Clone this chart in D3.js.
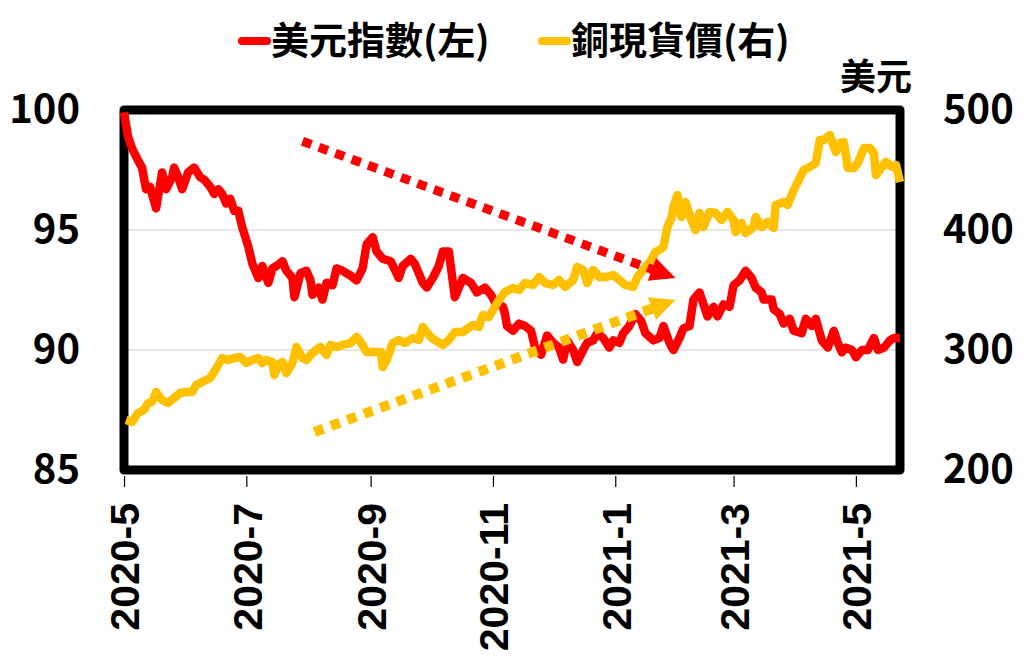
<html><head>
<meta charset="utf-8">
<title>美元指數 vs 銅現貨價</title>
<script src="https://d3js.org/d3.v7.min.js" charset="utf-8"></script>
<style>
  body { margin: 0; background: white; }
  .cjk { font-family: "Noto Sans CJK TC", "Noto Sans", sans-serif; font-weight: 700; }
  .xlab { font-family: "Liberation Sans", Arial, sans-serif; font-weight: 700; }
</style>
</head>
<body>
<script>
// DATA
var dxyDates = ["2020-05-01","2020-05-03","2020-05-05","2020-05-08","2020-05-10","2020-05-12","2020-05-14","2020-05-15","2020-05-17","2020-05-20",
  "2020-05-22","2020-05-25","2020-05-26","2020-05-28","2020-05-30","2020-06-02","2020-06-05","2020-06-08","2020-06-10","2020-06-13",
  "2020-06-15","2020-06-17","2020-06-19","2020-06-21","2020-06-23","2020-06-25","2020-06-27","2020-06-29","2020-07-02","2020-07-04",
  "2020-07-07","2020-07-09","2020-07-12","2020-07-14","2020-07-16","2020-07-19","2020-07-21","2020-07-24","2020-07-25","2020-07-28",
  "2020-07-31","2020-08-02","2020-08-03","2020-08-06","2020-08-08","2020-08-10","2020-08-13","2020-08-15","2020-08-18","2020-08-22",
  "2020-08-25","2020-08-28","2020-08-30","2020-09-02","2020-09-04","2020-09-07","2020-09-11","2020-09-15","2020-09-17","2020-09-21",
  "2020-09-23","2020-09-27","2020-09-29","2020-10-02","2020-10-05","2020-10-07","2020-10-10","2020-10-13","2020-10-17","2020-10-21",
  "2020-10-24","2020-10-28","2020-10-31","2020-11-02","2020-11-06","2020-11-07","2020-11-08","2020-11-11","2020-11-14","2020-11-17",
  "2020-11-20","2020-11-22","2020-11-25","2020-11-28","2020-12-01","2020-12-04","2020-12-06","2020-12-08","2020-12-11","2020-12-13",
  "2020-12-16","2020-12-18","2020-12-21","2020-12-23","2020-12-26","2020-12-29","2020-12-31","2021-01-03","2021-01-05","2021-01-08",
  "2021-01-11","2021-01-14","2021-01-16","2021-01-20","2021-01-23","2021-01-25","2021-01-28","2021-01-30","2021-02-02","2021-02-04",
  "2021-02-07","2021-02-09","2021-02-12","2021-02-14","2021-02-16","2021-02-19","2021-02-21","2021-02-24","2021-02-27","2021-03-01",
  "2021-03-04","2021-03-07","2021-03-10","2021-03-12","2021-03-15","2021-03-16","2021-03-20","2021-03-21","2021-03-24","2021-03-26",
  "2021-03-29","2021-03-31","2021-04-04","2021-04-06","2021-04-09","2021-04-11","2021-04-14","2021-04-17","2021-04-20","2021-04-22",
  "2021-04-24","2021-04-26","2021-04-29","2021-05-01","2021-05-04","2021-05-07","2021-05-10","2021-05-12","2021-05-15","2021-05-18",
  "2021-05-20","2021-05-23"];
var dxyValues = [99.9,98.9,98.4,97.9,97.6,96.7,96.8,96.5,95.9,97.4,
  96.7,97.2,97.6,97.2,96.7,97.4,97.6,97.2,97.1,96.8,
  96.5,96.7,96.5,96.1,96.3,95.8,95.8,95.1,94.3,93.6,
  93.0,93.5,92.8,93.4,93.5,93.7,93.3,93.0,92.2,93.2,
  93.3,92.9,92.3,92.6,92.1,92.8,92.7,93.4,93.3,93.1,
  92.9,93.4,94.4,94.7,94.1,93.8,93.7,93.0,93.5,93.8,
  93.6,92.8,92.6,93.0,93.5,94.1,94.1,92.2,93.0,92.8,
  92.4,92.6,92.3,92.0,91.8,91.5,91.0,90.8,91.1,91.0,
  90.8,90.1,89.8,90.6,90.3,90.1,89.6,90.4,90.0,89.5,
  90.0,90.3,90.4,90.7,90.5,90.1,90.4,90.3,90.7,91.0,
  91.5,91.2,90.7,90.4,90.5,91.0,90.3,90.0,90.5,90.9,
  91.0,92.1,92.4,91.9,91.4,91.8,91.4,91.9,91.8,92.7,
  92.9,93.3,93.0,92.6,92.4,92.1,92.1,91.7,91.5,91.1,
  91.3,90.8,90.7,91.3,91.0,91.3,90.4,90.1,90.8,90.3,
  89.9,90.1,90.0,89.7,90.0,90.0,90.5,90.0,90.1,90.4,
  90.5,90.5];

var copperDates = ["2020-05-02","2020-05-05","2020-05-08","2020-05-11","2020-05-13","2020-05-15","2020-05-17","2020-05-20","2020-05-23","2020-05-26",
  "2020-05-29","2020-06-01","2020-06-04","2020-06-06","2020-06-09","2020-06-13","2020-06-15","2020-06-17","2020-06-19","2020-06-22",
  "2020-06-25","2020-06-28","2020-07-01","2020-07-04","2020-07-07","2020-07-09","2020-07-11","2020-07-14","2020-07-15","2020-07-17",
  "2020-07-19","2020-07-21","2020-07-24","2020-07-26","2020-07-29","2020-07-31","2020-08-03","2020-08-07","2020-08-10","2020-08-12",
  "2020-08-15","2020-08-18","2020-08-22","2020-08-25","2020-08-27","2020-08-30","2020-09-02","2020-09-06","2020-09-07","2020-09-09",
  "2020-09-12","2020-09-15","2020-09-18","2020-09-22","2020-09-25","2020-09-27","2020-10-01","2020-10-03","2020-10-07","2020-10-10",
  "2020-10-13","2020-10-17","2020-10-22","2020-10-25","2020-10-27","2020-10-30","2020-11-01","2020-11-04","2020-11-07","2020-11-11",
  "2020-11-14","2020-11-17","2020-11-21","2020-11-24","2020-11-27","2020-12-01","2020-12-04","2020-12-07","2020-12-11","2020-12-13",
  "2020-12-16","2020-12-18","2020-12-21","2020-12-24","2020-12-27","2020-12-31","2021-01-03","2021-01-06","2021-01-10","2021-01-12",
  "2021-01-15","2021-01-19","2021-01-21","2021-01-23","2021-01-25","2021-01-27","2021-01-29","2021-01-30","2021-02-01","2021-02-03",
  "2021-02-05","2021-02-08","2021-02-10","2021-02-12","2021-02-14","2021-02-17","2021-02-20","2021-02-23","2021-02-26","2021-03-01",
  "2021-03-02","2021-03-05","2021-03-07","2021-03-11","2021-03-12","2021-03-15","2021-03-18","2021-03-21","2021-03-22","2021-03-26",
  "2021-03-28","2021-03-31","2021-04-02","2021-04-05","2021-04-08","2021-04-11","2021-04-13","2021-04-15","2021-04-18","2021-04-20",
  "2021-04-21","2021-04-23","2021-04-25","2021-04-27","2021-04-30","2021-05-02","2021-05-05","2021-05-08","2021-05-10","2021-05-11",
  "2021-05-14","2021-05-16","2021-05-19","2021-05-21","2021-05-23"];
var copperValues = [241.7,240,247.5,250,255.8,256.7,265,258.3,255.8,260,
  264.2,265,265,270.8,273.3,276.7,281.7,287.5,293.3,291.7,
  293.3,294.2,289.2,291.7,293.3,289.2,291.7,290,279.2,287.5,
  290,280.8,289.2,302.5,293.3,291.7,297.5,302.5,295.8,304.2,
  302.5,304.2,305.8,310.8,306.7,298.3,298.3,298.3,285.8,291.7,
  305.8,308.3,305.8,310,308.3,319.2,310.8,308.3,304.2,308.3,
  315,315,320.8,319.2,329.2,327.5,333.3,341.7,348.3,351.7,
  350,355.8,354.2,360.8,355.8,354.2,358.3,352.5,358.3,369.2,
  366.7,355.8,366.7,360.8,360.8,362.5,358.3,354.2,352.5,360.8,
  366.7,375,381.7,383.3,385.8,402.5,410,419.2,429.2,410.8,
  423.3,408.3,400,414.2,402.5,415,414.2,408.3,415,408.3,
  398.3,405.8,397.5,402.5,410.8,402.5,406.7,401.7,420.8,423.3,
  420.8,433.3,440,450,452.5,455.8,475,475,479.2,469.2,
  465,472.5,473.3,451.7,451.7,455.8,468.3,468.3,464.2,445.8,
  452.5,456.7,452.5,454.2,440];

var xTickDates = ["2020-05-01","2020-07-01","2020-09-01","2020-11-01","2021-01-01","2021-03-01","2021-05-01"];
var leftTicks = [85, 90, 95, 100];
var rightTicks = [200, 300, 400, 500];
var gridTicks = [90, 95];
var legendLabels = ["美元指數(左)", "銅現貨價(右)"];
var seriesColors = ["#FF0000", "#FFC000"];
var rightUnit = "美元";

// trend arrows (annotation), given in data space: [date, value] on left / right axis
var downArrow = [["2020-07-29", 98.7], ["2021-01-31", 93.0]];
var upArrow = [["2020-08-04", 231.7], ["2021-01-31", 341.7]];

var parse = d3.timeParse("%Y-%m-%d");
var dxy = dxyDates.map(function(d, i) { return {date: parse(d), value: dxyValues[i]}; });
var copper = copperDates.map(function(d, i) { return {date: parse(d), value: copperValues[i]}; });

var svg = d3.select("body").append("svg")
  .attr("width", 1024)
  .attr("height", 669);

var plot = {left: 124, right: 900, top: 110, bottom: 470};

var xScale = d3.scaleTime()
  .domain([parse("2020-05-01"), parse("2021-05-23")])
  .range([plot.left, plot.right]);
var yLeft = d3.scaleLinear().domain([85, 100]).range([plot.bottom, plot.top]);
var yRight = d3.scaleLinear().domain([200, 500]).range([plot.bottom, plot.top]);

// gridlines
svg.selectAll(".grid").data(gridTicks).enter().append("line")
  .attr("x1", plot.left).attr("x2", plot.right)
  .attr("y1", function(d) { return yLeft(d); })
  .attr("y2", function(d) { return yLeft(d); })
  .style("stroke", "#d0d0d0")
  .style("stroke-width", 1);

// frame
svg.append("rect")
  .attr("x", plot.left).attr("y", plot.top)
  .attr("width", plot.right - plot.left)
  .attr("height", plot.bottom - plot.top)
  .style("fill", "none")
  .style("stroke", "black")
  .style("stroke-width", 9)
  .style("stroke-linejoin", "round");

// left axis
var gl = svg.append("g").attr("class", "cjk")
  .attr("transform", "translate(" + plot.left + ",0)")
  .call(d3.axisLeft(yLeft).tickValues(leftTicks).tickSize(0).tickPadding(44));
gl.select(".domain").remove();
gl.selectAll("text").style("font-size", "40px").style("fill", "black")
  .style("font-family", "'Noto Sans CJK TC', sans-serif").style("font-weight", 700);

// right axis
var gr = svg.append("g")
  .attr("transform", "translate(" + plot.right + ",0)")
  .call(d3.axisRight(yRight).tickValues(rightTicks).tickSize(0).tickPadding(43));
gr.select(".domain").remove();
gr.selectAll("text").style("font-size", "40px").style("fill", "black")
  .style("font-family", "'Noto Sans CJK TC', sans-serif").style("font-weight", 700);

svg.append("text").attr("class", "cjk")
  .attr("x", 912).attr("y", 77)
  .attr("dy", "0.35em")
  .style("text-anchor", "end")
  .style("font-size", "36px")
  .text(rightUnit);

// bottom axis
var gx = svg.append("g")
  .attr("transform", "translate(0," + (plot.bottom + 6) + ")")
  .call(d3.axisBottom(xScale).tickValues(xTickDates.map(parse))
    .tickSizeInner(11).tickSizeOuter(0).tickFormat(d3.timeFormat("%Y-%-m")));
gx.select(".domain").remove();
gx.selectAll(".tick line").style("stroke", "black").style("stroke-width", 1.2);
gx.selectAll("text")
  .attr("class", "xlab")
  .attr("transform", "rotate(-90)")
  .attr("x", -27).attr("y", 0).attr("dy", "0.36em")
  .style("text-anchor", "end")
  .style("font-size", "41px")
  .style("fill", "black");

// lines
var lineL = d3.line().x(function(d) { return xScale(d.date); }).y(function(d) { return yLeft(d.value); });
var lineR = d3.line().x(function(d) { return xScale(d.date); }).y(function(d) { return yRight(d.value); });

svg.append("path").datum(dxy)
  .attr("d", lineL)
  .style("fill", "none").style("stroke", seriesColors[0])
  .style("stroke-width", 8.5).style("stroke-linejoin", "round");
svg.append("path").datum(copper)
  .attr("d", lineR)
  .style("fill", "none").style("stroke", seriesColors[1])
  .style("stroke-width", 8.5).style("stroke-linejoin", "round");

// dotted trend arrows
function drawArrow(pts, yScale, color, width) {
  var x1 = xScale(parse(pts[0][0])), y1 = yScale(pts[0][1]);
  var x2 = xScale(parse(pts[1][0])), y2 = yScale(pts[1][1]);
  var len = Math.sqrt((x2 - x1) * (x2 - x1) + (y2 - y1) * (y2 - y1));
  var ux = (x2 - x1) / len, uy = (y2 - y1) / len;
  var headLen = 25, headHalf = 12;
  var bx = x2 - ux * headLen, by = y2 - uy * headLen;
  svg.append("line")
    .attr("x1", x1).attr("y1", y1)
    .attr("x2", bx + ux * 2).attr("y2", by + uy * 2)
    .style("stroke", color)
    .style("stroke-width", width)
    .style("stroke-dasharray", "9.5 8");
  svg.append("polygon")
    .attr("points", [[x2, y2], [bx - uy * headHalf, by + ux * headHalf], [bx + uy * headHalf, by - ux * headHalf]].join(" "))
    .style("fill", color);
}
drawArrow(downArrow, yLeft, seriesColors[0], 9);
drawArrow(upArrow, yRight, seriesColors[1], 10);

// legend
var legendX = [238, 538];
legendLabels.forEach(function(lab, i) {
  svg.append("line")
    .attr("x1", legendX[i] + 4).attr("x2", legendX[i] + 29)
    .attr("y1", 41).attr("y2", 41)
    .style("stroke", seriesColors[i])
    .style("stroke-width", 8)
    .style("stroke-linecap", "round");
  svg.append("text").attr("class", "cjk")
    .attr("x", legendX[i] + 33).attr("y", 41)
    .attr("dy", "0.35em")
    .style("font-size", "38px")
    .text(lab);
});
</script>
</body></html>
